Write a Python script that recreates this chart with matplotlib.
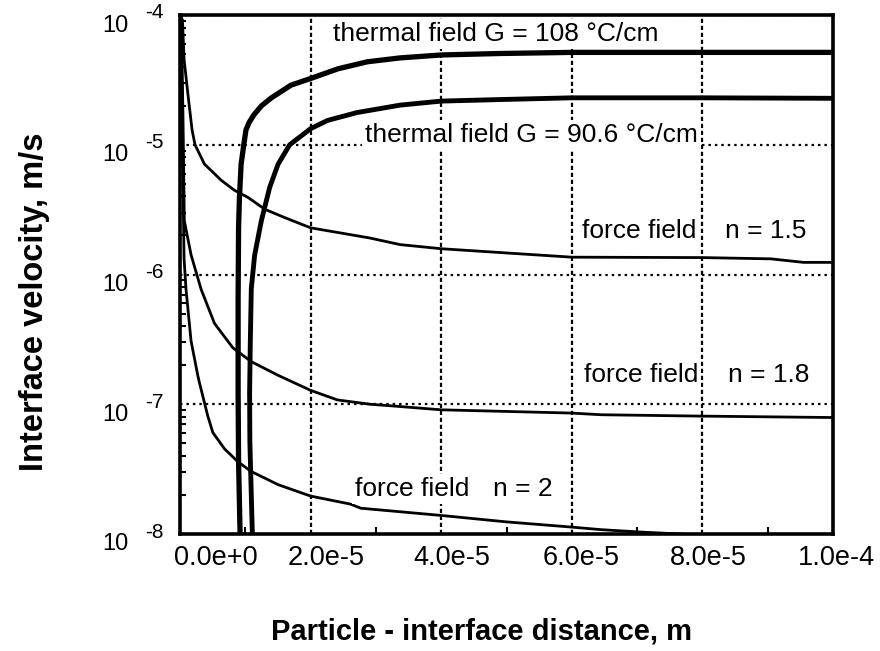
import matplotlib
matplotlib.use('Agg')
import matplotlib.pyplot as plt
from matplotlib import transforms
from matplotlib.ticker import FixedLocator, NullFormatter

plt.rcParams['font.family'] = ['Liberation Sans', 'DejaVu Sans']

# ---------------- data ----------------
x_ticks = [0.0, 2e-5, 4e-5, 6e-5, 8e-5, 1e-4]
x_ticklabels = ['0.0e+0', '2.0e-5', '4.0e-5', '6.0e-5', '8.0e-5', '1.0e-4']
y_ticks = [1e-8, 1e-7, 1e-6, 1e-5, 1e-4]
y_exponents = ['-8', '-7', '-6', '-5', '-4']

# thermal field G = 108 C/cm
g108_x = [9.1e-6, 9.2e-6, 8.97e-6, 8.9e-6, 8.9e-6, 8.97e-6, 9.1e-6, 9.36e-6, 9.77e-6,
          1.01e-5, 1.06e-5, 1.135e-5, 1.25e-5, 1.40e-5, 1.70e-5, 2.0e-5, 2.42e-5, 2.87e-5,
          3.37e-5, 4.0e-5, 4.9e-5, 6.0e-5, 8.0e-5, 1.0e-4]
g108_v = [5e-9, 1e-8, 3.6e-8, 1.23e-7, 6.5e-7, 2.3e-6, 3.9e-6, 7.1e-6, 1.0e-5,
          1.30e-5, 1.49e-5, 1.71e-5, 2.0e-5, 2.30e-5, 2.88e-5, 3.24e-5, 3.85e-5, 4.36e-5,
          4.67e-5, 4.92e-5, 5.05e-5, 5.15e-5, 5.15e-5, 5.15e-5]

# thermal field G = 90.6 C/cm
g906_x = [1.12e-5, 1.108e-5, 1.07e-5, 1.066e-5, 1.077e-5, 1.092e-5, 1.143e-5, 1.246e-5,
          1.374e-5, 1.503e-5, 1.68e-5, 2.0e-5, 2.26e-5, 2.71e-5, 3.37e-5, 4.0e-5,
          4.9e-5, 6.0e-5, 8.0e-5, 1.0e-4]
g906_v = [5e-9, 1e-8, 5.1e-8, 1.23e-7, 3.1e-7, 7.8e-7, 1.41e-6, 2.6e-6,
          4.7e-6, 7.1e-6, 1.0e-5, 1.33e-5, 1.54e-5, 1.77e-5, 2.02e-5, 2.17e-5,
          2.23e-5, 2.30e-5, 2.30e-5, 2.28e-5]

# force field n = 1.5
n15_x = [1.0e-7, 3.8e-7, 6.2e-7, 1.28e-6, 1.85e-6, 2.3e-6, 3.74e-6, 6.3e-6, 8.3e-6,
         1.04e-5, 1.30e-5, 1.60e-5, 2.0e-5, 2.91e-5, 3.37e-5, 4.0e-5, 6.0e-5, 8.0e-5,
         9.05e-5, 9.55e-5, 1.0e-4]
n15_v = [1.0e-4, 9.1e-5, 4.57e-5, 2.29e-5, 1.30e-5, 1.0e-5, 7.1e-6, 5.33e-6, 4.47e-6,
         3.93e-6, 3.18e-6, 2.75e-6, 2.29e-6, 1.91e-6, 1.70e-6, 1.58e-6, 1.36e-6, 1.35e-6,
         1.32e-6, 1.24e-6, 1.24e-6]

# force field n = 1.8
n18_x = [1.0e-7, 2.3e-7, 4.6e-7, 6.6e-7, 1.69e-6, 3.23e-6, 5.28e-6, 8.1e-6, 1.092e-5,
         1.503e-5, 2.0e-5, 2.41e-5, 2.91e-5, 3.26e-5, 4.0e-5, 6.0e-5, 6.45e-5, 8.0e-5, 1.0e-4]
n18_v = [1.0e-4, 7.7e-5, 1.62e-5, 2.6e-6, 1.42e-6, 7.7e-7, 4.2e-7, 2.72e-7, 2.13e-7,
         1.67e-7, 1.28e-7, 1.08e-7, 1.0e-7, 9.7e-8, 9.06e-8, 8.55e-8, 8.3e-8, 8.1e-8, 7.9e-8]

# force field n = 2
n2_x = [1.0e-7, 2.0e-7, 3.8e-7, 6.2e-7, 9.2e-7, 1.69e-6, 2.72e-6, 2.97e-6, 4.26e-6,
        5.03e-6, 6.82e-6, 8.88e-6, 1.092e-5, 1.503e-5, 2.0e-5, 2.61e-5, 2.77e-5, 4.0e-5,
        5.0e-5, 6.0e-5, 6.45e-5, 7.06e-5, 7.83e-5, 8.45e-5]
n2_v = [1.0e-4, 7.8e-5, 9.6e-6, 1.33e-6, 7.7e-7, 3.08e-7, 1.67e-7, 1.47e-7, 8.1e-8,
        6.05e-8, 4.53e-8, 3.6e-8, 3.03e-8, 2.40e-8, 1.96e-8, 1.70e-8, 1.58e-8, 1.39e-8,
        1.24e-8, 1.13e-8, 1.08e-8, 1.035e-8, 9.9e-9, 9.5e-9]

# ---------------- figure ----------------
W, H = 880, 651
fig = plt.figure(figsize=(W / 100, H / 100), dpi=100)
L, R, T, B = 180, 833, 15, 534
ax = fig.add_axes([L / W, 1 - B / H, (R - L) / W, (B - T) / H])
ax.set_yscale('log')
ax.set_xlim(0, 1e-4)
ax.set_ylim(1e-8, 1e-4)

ax.set_xticks(x_ticks)
ax.set_xticklabels(x_ticklabels)
ax.xaxis.set_minor_locator(FixedLocator([1e-5, 3e-5, 5e-5, 7e-5, 9e-5]))
ax.set_yticks(y_ticks)
ax.set_yticklabels(['10'] * len(y_ticks))
ax.yaxis.set_minor_formatter(NullFormatter())
ax.xaxis.grid(True, which='major', color='black', linestyle=(0, (1.9, 1.25)), lw=1.6, zorder=1)
ax.yaxis.grid(True, which='major', color='black', linestyle=(0, (1.1, 1.8)), lw=1.6, zorder=1)
ax.set_axisbelow(True)
ax.tick_params(axis='x', which='major', length=0, pad=8, labelsize=19.5)
ax.tick_params(axis='y', which='major', length=0, pad=37, labelsize=17)
ax.tick_params(axis='both', which='minor', direction='in', length=4, width=1.5, color='black')
ax.tick_params(axis='x', which='minor', length=5)

# x tick labels of the reference sit a little to the right of their ticks
x_label_shift_px = [36, 16, 11, 9, 6, 3]
for lab, dx in zip(ax.get_xticklabels(), x_label_shift_px):
    lab.set_transform(lab.get_transform() +
                      transforms.ScaledTranslation(dx / 100, 0, fig.dpi_scale_trans))

# shift "10" labels slightly downward
off_down = transforms.ScaledTranslation(0, -8 / 100, fig.dpi_scale_trans)
for lab in ax.get_yticklabels():
    lab.set_transform(lab.get_transform() + off_down)

# exponents
sup_tr = transforms.blended_transform_factory(ax.transAxes, ax.transData)
sup_tr = sup_tr + transforms.ScaledTranslation(0, 2 / 100, fig.dpi_scale_trans)
for yv, ex in zip(y_ticks, y_exponents):
    ax.text((145 - L) / (R - L), yv, ex, transform=sup_tr, fontsize=15,
            ha='left', va='center', clip_on=False)

for sp in ax.spines.values():
    sp.set_linewidth(2.6)
    sp.set_zorder(2.5)

# curves
ax.plot(g108_x, g108_v, color='black', lw=3.8, zorder=2, solid_joinstyle='round')
ax.plot(g906_x, g906_v, color='black', lw=3.5, zorder=2, solid_joinstyle='round')
ax.plot(n15_x, n15_v, color='black', lw=2.0, zorder=2, solid_joinstyle='round')
ax.plot(n18_x, n18_v, color='black', lw=2.0, zorder=2, solid_joinstyle='round')
ax.plot(n2_x, n2_v, color='black', lw=2.0, zorder=2, solid_joinstyle='round')

# annotations (pixel positions -> axes fractions)
def axpos(px, py):
    return ((px - L) / (R - L), (B - py) / (B - T))

box = dict(facecolor='white', edgecolor='none', pad=2)
labels = [
    ('thermal field G = 108 °C/cm', 333, 41),
    ('thermal field G = 90.6 °C/cm', 365, 142),
    ('force field', 582, 238), ('n = 1.5', 725, 238),
    ('force field', 584, 382), ('n = 1.8', 728, 382),
    ('force field', 355, 496), ('n = 2', 493, 496),
]
for txt, px, py in labels:
    xa, ya = axpos(px, py)
    ax.text(xa, ya, txt, transform=ax.transAxes, fontsize=19, ha='left',
            va='baseline', bbox=box, zorder=4)

fig.text(35 / W, 1 - 302 / H, 'Interface velocity, m/s', rotation=90, fontsize=23.5,
         fontweight='bold', ha='center', va='center')
fig.text(481 / W, 1 - 632 / H, 'Particle - interface distance, m', fontsize=21,
         fontweight='bold', ha='center', va='center')

fig.savefig('out.png', dpi=100)
